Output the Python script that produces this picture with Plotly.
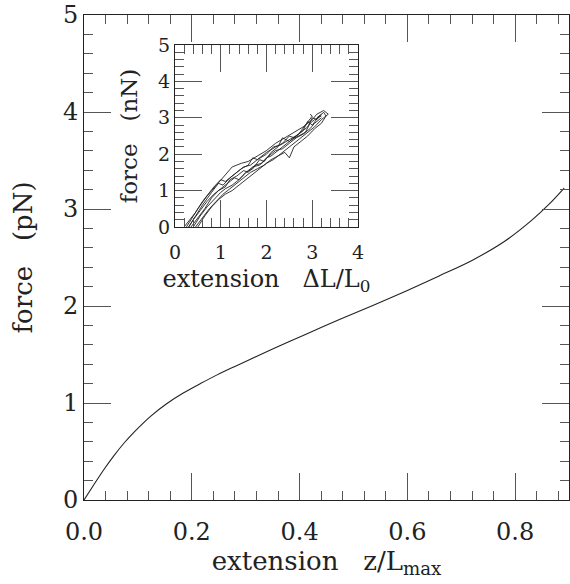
import plotly.graph_objects as go

# Main curve: force (pN) vs extension z/Lmax
main_x = [0, 0.0185, 0.037, 0.056, 0.074, 0.093, 0.124, 0.154, 0.185, 0.216, 0.247,
          0.278, 0.30, 0.351, 0.412, 0.474, 0.536, 0.598, 0.659, 0.72, 0.78, 0.83,
          0.865, 0.891]
main_f = [0, 0.16, 0.315, 0.46, 0.585, 0.70, 0.865, 0.995, 1.105, 1.20, 1.29,
          1.372, 1.428, 1.558, 1.71, 1.86, 2.005, 2.155, 2.31, 2.47, 2.665, 2.88,
          3.06, 3.215]

# Inset: experimental traces, force (nN) vs extension dL/L0
c1_x = [0.25, 0.35, 0.5, 0.7, 0.9, 1.1, 1.25, 1.45, 1.6, 1.8, 2.0, 2.2, 2.4, 2.6, 2.8, 3.0, 3.1]
c1_f = [0, 0.2, 0.5, 0.85, 1.15, 1.45, 1.65, 1.75, 1.8, 1.95, 2.1, 2.3, 2.45, 2.6, 2.75, 2.95, 3.1]
c2_x = [0.3, 0.45, 0.6, 0.8, 0.95, 1.05, 1.2, 1.35, 1.5, 1.65, 1.8, 2.0, 2.15, 2.3, 2.5, 2.7, 2.85, 3.0, 2.95]
c2_f = [0, 0.3, 0.6, 0.95, 1.2, 1.15, 1.35, 1.5, 1.65, 1.7, 1.85, 2.0, 2.2, 2.25, 2.4, 2.55, 2.8, 3.05, 3.1]
c3_x = [0.4, 0.55, 0.7, 0.85, 1.0, 1.1, 1.25, 1.4, 1.55, 1.7, 1.85, 1.95, 2.1, 2.25, 2.35, 2.5, 2.65, 2.8, 2.9, 3.0, 3.15]
c3_f = [0, 0.3, 0.55, 0.75, 0.95, 1.05, 1.15, 1.3, 1.5, 1.6, 1.85, 1.8, 2.05, 2.2, 2.45, 2.35, 2.5, 2.65, 2.9, 2.8, 3.05]
c4_x = [0.45, 0.6, 0.75, 0.9, 1.05, 1.2, 1.35, 1.5, 1.65, 1.8, 1.95, 2.1, 2.25, 2.4, 2.5, 2.6, 2.75, 2.9, 3.05, 3.2, 3.3, 3.25, 3.1]
c4_f = [0, 0.25, 0.5, 0.7, 0.9, 1.05, 1.2, 1.35, 1.5, 1.6, 1.7, 1.85, 1.95, 2.05, 1.9, 2.2, 2.35, 2.5, 2.7, 2.85, 3.05, 3.15, 3.0]
c5_x = [0.5, 0.65, 0.8, 0.95, 1.1, 1.25, 1.4, 1.55, 1.7, 1.85, 2.0, 2.15, 2.3, 2.45, 2.6, 2.75, 2.9, 3.05, 3.2, 3.35, 3.25, 3.1]
c5_f = [0, 0.3, 0.55, 0.75, 0.9, 1.0, 1.15, 1.3, 1.45, 1.6, 1.75, 1.85, 2.0, 2.15, 2.3, 2.45, 2.6, 2.75, 2.95, 3.1, 3.2, 3.1]
c6_x = [0.2, 0.3, 0.45, 0.6, 0.75, 0.85, 1.0, 1.1, 1.3, 1.45, 1.6, 1.7, 1.8, 2.0, 2.2, 2.35, 2.5, 2.6, 2.75, 2.9, 3.0, 3.1, 3.2]
c6_f = [0, 0.15, 0.4, 0.7, 0.95, 1.1, 1.3, 1.25, 1.45, 1.6, 1.7, 1.9, 1.85, 2.05, 2.2, 2.3, 2.5, 2.45, 2.6, 2.75, 3.0, 2.95, 3.1]
c7_x = [0.35, 0.5, 0.65, 0.8, 0.95, 1.1, 1.2, 1.35, 1.5, 1.6, 1.75, 1.9, 2.05, 2.2, 2.35, 2.5, 2.65, 2.8, 2.95, 3.05, 3.2]
c7_f = [0, 0.25, 0.5, 0.8, 1.0, 1.1, 1.3, 1.4, 1.55, 1.5, 1.7, 1.75, 1.95, 2.1, 2.15, 2.3, 2.45, 2.55, 2.7, 2.85, 3.0]
c8_x = [0.3, 0.4, 0.55, 0.7, 0.85, 1.0, 1.15, 1.3, 1.4, 1.55, 1.7, 1.85, 2.0, 2.1, 2.25, 2.4, 2.55, 2.7, 2.85, 2.95, 3.05, 3.2]
c8_f = [0, 0.2, 0.45, 0.7, 0.9, 1.05, 1.2, 1.35, 1.3, 1.5, 1.65, 1.7, 1.9, 1.95, 2.1, 2.25, 2.4, 2.5, 2.6, 2.85, 2.95, 3.05]

inset_traces = [(c1_x, c1_f), (c2_x, c2_f), (c3_x, c3_f), (c4_x, c4_f),
                (c5_x, c5_f), (c6_x, c6_f), (c7_x, c7_f), (c8_x, c8_f)]

FONT = "DejaVu Serif"
NB = "\u00a0"

fig = go.Figure()
fig.add_trace(go.Scatter(x=main_x, y=main_f, mode="lines",
                         line=dict(color="#222", width=1.1, shape="spline", smoothing=0.8),
                         xaxis="x", yaxis="y", showlegend=False))
for cx, cf in inset_traces:
    fig.add_trace(go.Scatter(x=cx, y=cf, mode="lines", line=dict(color="#222", width=0.9),
                             xaxis="x2", yaxis="y2", showlegend=False))

def minor(dt):
    return dict(dtick=dt, tick0=0, ticks="inside", ticklen=9, tickcolor="#555", tickwidth=1, showgrid=False)

def axis(**kw):
    base = dict(tickmode="linear", tick0=0, ticks="inside", ticklen=27, tickwidth=1, tickcolor="#555",
                showline=True, linecolor="#222", linewidth=1, mirror="allticks",
                showgrid=False, zeroline=False)
    base.update(kw)
    return base

fig.update_layout(
    template="none",
    width=570, height=584,
    margin=dict(l=84, r=1, t=15, b=84),
    paper_bgcolor="white", plot_bgcolor="white",
    font=dict(family=FONT, color="#222"),
    xaxis=axis(domain=[0, 1], range=[0, 0.9], dtick=0.2, tickformat=".1f",
               minor=minor(0.04), ticklabelstandoff=10,
               tickfont=dict(size=24, family=FONT),
               title=dict(text="extension" + NB * 3 + "z/L<sub>max</sub>",
                          font=dict(size=26, family=FONT), standoff=0)),
    yaxis=axis(domain=[0, 1], range=[0, 5], dtick=1,
               minor=minor(0.2),
               tickfont=dict(size=24, family=FONT),
               title=dict(text="force" + NB * 3 + "(pN)", font=dict(size=26, family=FONT), standoff=22)),
    xaxis2=axis(domain=[0.1876, 0.565], anchor="y2", range=[0, 4], dtick=1,
                minor=minor(0.2), ticklabelstandoff=8,
                tickfont=dict(size=19, family=FONT),
                title=dict(text="extension" + NB * 3 + "\u0394L/L<sub>0</sub>",
                           font=dict(size=24, family=FONT), standoff=8)),
    yaxis2=axis(domain=[0.563, 0.938], anchor="x2", range=[0, 5], dtick=1,
                minor=minor(0.2),
                tickfont=dict(size=19, family=FONT),
                title=dict(text="force" + NB * 3 + "(nN)", font=dict(size=23, family=FONT), standoff=14)),
)

fig.write_html("out.html", config={"displayModeBar": False},
               post_script="document.body.style.margin='0';document.body.style.overflow='hidden';")
